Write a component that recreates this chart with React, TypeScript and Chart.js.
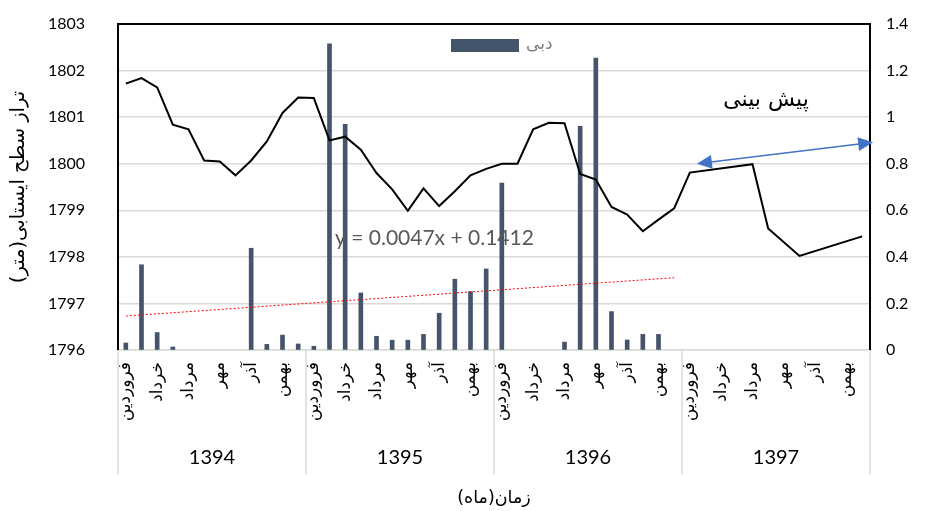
import React, { useEffect, useRef } from "react";
import { Chart, registerables } from "chart.js";

Chart.register(...registerables);

const MONTHS = ["فروردین", "اردیبهشت", "خرداد", "تیر", "مرداد", "شهریور", "مهر", "آبان", "آذر", "دی", "بهمن", "اسفند"];
const YEARS = ["1394", "1395", "1396", "1397"];

// Water table level (m), left axis; nulls where the forecast line runs straight
const WATER_LEVEL: (number | null)[] = [
  1801.72, 1801.84, 1801.64, 1800.84, 1800.74, 1800.07, 1800.05, 1799.75, 1800.07, 1800.48, 1801.09, 1801.42,
  1801.41, 1800.5, 1800.58, 1800.3, 1799.8, 1799.45, 1798.99, 1799.47, 1799.09, 1799.41, 1799.75, 1799.89,
  1800.0, 1800.0, 1800.74, 1800.88, 1800.87, 1799.78, 1799.66, 1799.07, 1798.91, 1798.55, 1798.8, 1799.04,
  1799.81, null, null, null, 1799.99, 1798.61, null, 1798.02, null, null, null, 1798.44,
];

// Discharge (دبی), right axis; null = no flow recorded
const FLOW: (number | null)[] = [
  0.03, 0.366, 0.075, 0.013, null, null, null, null, 0.437, 0.024, 0.064, 0.026,
  0.016, 1.315, 0.969, 0.245, 0.059, 0.042, 0.042, 0.067, 0.158, 0.304, 0.251, 0.348,
  0.717, null, null, null, 0.034, 0.961, 1.254, 0.165, 0.043, 0.067, 0.067, null,
  null, null, null, null, null, null, null, null, null, null, null, null,
];

// Linear trendline of discharge (Excel), fitted over the first 36 months
const TREND_SLOPE = 0.0047;
const TREND_INTERCEPT = 0.1412;
const TREND_LAST_INDEX = 35;

const LEFT_TICKS = { min: 1796, max: 1803, step: 1 };
const RIGHT_TICKS = { min: 0, max: 1.4, step: 0.2 };

const TITLE_Y = "تراز سطح ایستابی(متر)";
const TITLE_X = "زمان(ماه)";
const LEGEND_LABEL = "دبی";
const FORECAST_LABEL = "پیش بینی";

const LABELS: string[] = [];
YEARS.forEach((yr) => MONTHS.forEach((m) => LABELS.push(m + " " + yr)));

const TREND: (number | null)[] = LABELS.map((_, i) =>
  i === 0 || i === TREND_LAST_INDEX ? TREND_INTERCEPT + TREND_SLOPE * (i + 1) : null
);

const LATIN = "Lato, 'DejaVu Sans', sans-serif";
const PERSIAN = "'DejaVu Sans', sans-serif";

function arrowHead(ctx: CanvasRenderingContext2D, tx: number, ty: number, ang: number, len: number, hw: number) {
  const bx = tx - Math.cos(ang) * len;
  const by = ty - Math.sin(ang) * len;
  const nx = -Math.sin(ang) * hw;
  const ny = Math.cos(ang) * hw;
  ctx.beginPath();
  ctx.moveTo(tx, ty);
  ctx.lineTo(bx + nx, by + ny);
  ctx.lineTo(bx - nx, by - ny);
  ctx.closePath();
  ctx.fill();
}

const overlay = {
  id: "overlay",
  afterDraw(chart: any) {
    const { ctx, chartArea: ca, scales } = chart;
    const xs = scales.x;
    const ys = scales.y;
    ctx.save();

    // separators between year groups
    ctx.strokeStyle = "#D9D9D9";
    ctx.lineWidth = 1.5;
    const step = (ca.right - ca.left) / LABELS.length;
    for (let k = 0; k <= YEARS.length; k++) {
      const px = ca.left + k * 12 * step;
      ctx.beginPath();
      ctx.moveTo(px, ca.bottom);
      ctx.lineTo(px, ca.bottom + 124);
      ctx.stroke();
    }

    // frame
    ctx.strokeStyle = "#000";
    ctx.lineWidth = 2;
    ctx.beginPath();
    ctx.moveTo(ca.left, ca.bottom);
    ctx.lineTo(ca.left, ca.top);
    ctx.lineTo(ca.right, ca.top);
    ctx.lineTo(ca.right, ca.bottom);
    ctx.stroke();

    // year labels
    ctx.fillStyle = "#000";
    ctx.font = "20px " + LATIN;
    ctx.textAlign = "center";
    ctx.textBaseline = "middle";
    YEARS.forEach((yr, k) => {
      const cx = ca.left + (k * 12 + 6) * step;
      ctx.fillText(yr, cx, ca.bottom + 108);
    });

    // axis titles
    ctx.font = "17.5px " + PERSIAN;
    ctx.fillText(TITLE_X, (ca.left + ca.right) / 2, 498);
    ctx.save();
    ctx.translate(19, (ca.top + ca.bottom) / 2);
    ctx.rotate(-Math.PI / 2);
    ctx.font = "19.5px " + PERSIAN;
    ctx.fillText(TITLE_Y, 0, 0);
    ctx.restore();

    // legend
    ctx.fillStyle = "#44546A";
    ctx.fillRect(451, 39, 68, 13);
    ctx.fillStyle = "#7F7F7F";
    ctx.font = "17px " + PERSIAN;
    ctx.textAlign = "left";
    ctx.fillText(LEGEND_LABEL, 526, 45);

    // trend equation
    ctx.fillStyle = "#595959";
    ctx.font = "21px " + LATIN;
    ctx.textAlign = "left";
    const sign = TREND_INTERCEPT >= 0 ? " + " : " - ";
    ctx.fillText("y = " + TREND_SLOPE.toFixed(4) + "x" + sign + Math.abs(TREND_INTERCEPT).toFixed(4), 335, 238);

    // forecast label
    ctx.fillStyle = "#000";
    ctx.font = "22px " + PERSIAN;
    ctx.textAlign = "center";
    ctx.fillText(FORECAST_LABEL, 766, 100);

    // double arrow
    const x1 = xs.getPixelForValue(36.45);
    const y1 = ys.getPixelForValue(1800.0);
    const x2 = xs.getPixelForValue(47.7);
    const y2 = ys.getPixelForValue(1800.46);
    const ang = Math.atan2(y2 - y1, x2 - x1);
    ctx.strokeStyle = "#4472C4";
    ctx.fillStyle = "#4472C4";
    ctx.lineWidth = 1.5;
    ctx.beginPath();
    ctx.moveTo(x1 + Math.cos(ang) * 10, y1 + Math.sin(ang) * 10);
    ctx.lineTo(x2 - Math.cos(ang) * 10, y2 - Math.sin(ang) * 10);
    ctx.stroke();
    arrowHead(ctx, x2, y2, ang, 15, 7);
    arrowHead(ctx, x1, y1, ang + Math.PI, 15, 7);

    ctx.restore();
  },
};

const fmt = (v: any) => String(parseFloat(Number(v).toFixed(2)));

export default function App() {
  const ref = useRef<HTMLCanvasElement | null>(null);

  useEffect(() => {
    if (!ref.current) return;
    const chart = new Chart(ref.current, {
      type: "bar",
      data: {
        labels: LABELS,
        datasets: [
          {
            type: "line",
            label: "تراز",
            data: WATER_LEVEL,
            yAxisID: "y",
            borderColor: "#000",
            borderWidth: 2,
            pointRadius: 0,
            tension: 0,
            spanGaps: true,
            order: 0,
          } as any,
          {
            type: "line",
            label: "Linear (دبی)",
            data: TREND,
            yAxisID: "y1",
            borderColor: "#FF0000",
            borderWidth: 1,
            borderDash: [2, 2],
            pointRadius: 0,
            spanGaps: true,
            order: 1,
          } as any,
          {
            type: "bar",
            label: LEGEND_LABEL,
            data: FLOW,
            yAxisID: "y1",
            backgroundColor: "#44546A",
            barThickness: 4,
            order: 2,
          } as any,
        ],
      },
      options: {
        responsive: false,
        animation: false,
        layout: { padding: { top: 24, left: 0, right: 0, bottom: 0 } },
        plugins: { legend: { display: false }, tooltip: { enabled: false } },
        scales: {
          x: {
            type: "category",
            grid: { display: false, drawTicks: false },
            border: { display: true, color: "#D9D9D9", width: 1.5 },
            ticks: {
              autoSkip: false,
              minRotation: 90,
              maxRotation: 90,
              padding: 12,
              color: "#000",
              font: { family: PERSIAN, size: 17 },
              callback: (_v: any, i: number) => (i % 2 === 0 ? MONTHS[i % 12] : ""),
            },
            afterFit: (s: any) => {
              s.height = 161;
            },
          },
          y: {
            position: "left",
            min: LEFT_TICKS.min,
            max: LEFT_TICKS.max,
            ticks: {
              stepSize: LEFT_TICKS.step,
              padding: 3,
              color: "#000",
              font: { family: LATIN, size: 16 },
              callback: fmt,
            },
            grid: { color: "#D9D9D9", lineWidth: 1.5, drawTicks: true, tickLength: 30, tickColor: "rgba(0,0,0,0)" },
            border: { display: false },
            afterFit: (s: any) => {
              s.width = 118;
            },
          },
          y1: {
            position: "right",
            min: RIGHT_TICKS.min,
            max: RIGHT_TICKS.max,
            ticks: {
              stepSize: RIGHT_TICKS.step,
              padding: 3,
              color: "#000",
              font: { family: LATIN, size: 16 },
              callback: fmt,
            },
            grid: { drawOnChartArea: false, drawTicks: true, tickLength: 13, tickColor: "rgba(0,0,0,0)" },
            border: { display: false },
            afterFit: (s: any) => {
              s.width = 55;
            },
          },
        },
      },
      plugins: [overlay],
    });
    return () => chart.destroy();
  }, []);

  return (
    <div style={{ position: "fixed", left: 0, top: 0, width: 925, height: 511, background: "#fff" }}>
      <canvas ref={ref} width={925} height={511} />
    </div>
  );
}
